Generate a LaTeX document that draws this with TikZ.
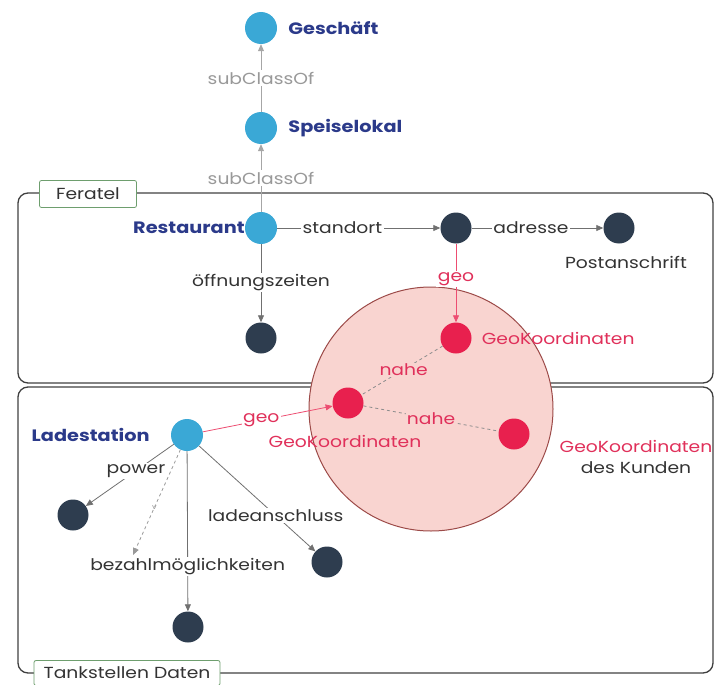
\documentclass[tikz,border=0pt]{standalone}
\usepackage{fontspec}
\setmainfont{Poppins}[FakeStretch=1.17]
\usetikzlibrary{positioning, arrows.meta, calc}

\definecolor{classblue}{HTML}{3AA8D6}
\definecolor{instdark}{HTML}{2E3D4F}
\definecolor{geored}{HTML}{E8204E}
\definecolor{zonefill}{HTML}{F9D4D0}
\definecolor{zonedraw}{HTML}{9C4A48}
\definecolor{labelblue}{HTML}{2B3A8A}
\definecolor{edgegray}{HTML}{707070}
\definecolor{taggreen}{HTML}{6E9E6E}
\definecolor{textred}{HTML}{E0305A}

\tikzset{
  clsnode/.style={circle, fill=classblue, minimum size=32pt, inner sep=0pt},
  instnode/.style={circle, fill=instdark, minimum size=31pt, inner sep=0pt},
  geonode/.style={circle, fill=geored, minimum size=31pt, inner sep=0pt},
  rel/.style={draw=edgegray, line width=0.8pt, -{Triangle[length=7pt,width=6pt]}},
  georel/.style={draw=geored!80, line width=0.8pt, -{Triangle[length=7pt,width=6pt]}},
  nearrel/.style={draw=edgegray!80, line width=0.8pt, dashed},
  rellabel/.style={fill=white, inner sep=1.5pt, text=black!80, font=\fontsize{16}{18}\selectfont},
  subclabel/.style={rellabel, text=black!40},
  geolabel/.style={rellabel, text=textred},
  nearlabel/.style={text=textred, fill=zonefill, inner sep=1pt, font=\fontsize{16}{18}\selectfont},
  clslabel/.style={text=labelblue, font=\bfseries\fontsize{16.5}{18}\selectfont, inner sep=0pt},
  geotext/.style={text=textred, font=\fontsize{16}{18}\selectfont, inner sep=0pt},
  plaintext/.style={text=black!80, font=\fontsize{16}{18}\selectfont, inner sep=0pt},
  container/.style={draw=black!75, line width=1.3pt, rounded corners=10pt},
  tagbox/.style={draw=taggreen, fill=white, line width=0.8pt, rounded corners=2pt,
    inner xsep=4pt, inner ysep=3pt, text=black!80, font=\fontsize{16}{18}\selectfont}
}

\begin{document}
\begin{tikzpicture}[x=1pt, y=-1pt]
    \useasboundingbox (0,0) rectangle (715,685);

    % Containers
    \draw[container] (18,193) rectangle (713,383);
    \draw[container] (18,387) rectangle (713,673);
    \node[tagbox, minimum width=97pt, minimum height=27pt] (feratel) at (88,194) {Feratel};
    \node[tagbox, minimum width=186pt, minimum height=25pt] (tankstellen) at (127,673) {Tankstellen Daten};

    % Zone of proximity
    \draw[draw=zonedraw, fill=zonefill, line width=1pt] (431,409) circle (122);

    % Classes
    \node[clsnode] (geschaeft) at (261,28) {};
    \node[clsnode] (speiselokal) at (261,128) {};
    \node[clsnode] (restaurant) at (261,228) {};
    \node[clsnode] (ladestation) at (187,435) {};

    \node[clslabel, right=11pt of geschaeft] {Geschäft};
    \node[clslabel, right=11pt of speiselokal] {Speiselokal};
    \node[clslabel, left=0pt of restaurant] {Restaurant};
    \node[clslabel, left=21pt of ladestation] {Ladestation};

    % Instances
    \node[instnode] (standort) at (456,228) {};
    \node[instnode] (postanschrift) at (619,228) {};
    \node[instnode] (oeffnung) at (261,338) {};
    \node[instnode] (power) at (73,515) {};
    \node[instnode] (anschluss) at (327,562) {};
    \node[instnode] (bezahl) at (188,627) {};
    \node[plaintext] at (626,262) {Postanschrift};

    % GeoKoordinaten
    \node[geonode] (geoA) at (456,338) {};
    \node[geonode] (geoB) at (348,403) {};
    \node[geonode] (geoC) at (514,434) {};
    \node[geotext, right=10pt of geoA] {GeoKoordinaten};
    \node[geotext] at (345,441) {GeoKoordinaten};
    \node[geotext] at (636,446) {GeoKoordinaten};
    \node[plaintext] at (636,468) {des Kunden};

    % subClassOf
    \draw[rel, draw=black!35] (speiselokal) -- node [midway, subclabel] {subClassOf} (geschaeft);
    \draw[rel, draw=black!35] (restaurant) -- node [midway, subclabel] {subClassOf} (speiselokal);

    % Feratel relations
    \draw[rel] (restaurant) -- node [pos=0.4, rellabel] {standort} (standort);
    \draw[rel] (standort) -- node [pos=0.45, rellabel] {adresse} (postanschrift);
    \draw[rel] (restaurant) -- node [pos=0.49, rellabel] {öffnungszeiten} (oeffnung);
    \draw[georel] (standort) -- node [pos=0.45, geolabel] {geo} (geoA);

    % Tankstellen relations
    \draw[georel] (ladestation) -- node [pos=0.45, geolabel] {geo} (geoB);
    \draw[rel] (ladestation) -- node [pos=0.43, rellabel] {power} (power);
    \draw[rel] (ladestation) -- node [pos=0.66, rellabel] {ladeanschluss} (anschluss);
    \draw[rel] (ladestation) -- node [pos=0.72, rellabel] {bezahlmöglichkeiten} (bezahl);
    \coordinate (bezahlend) at (133,555);
    \draw[rel, draw=black!40, dashed] (ladestation) -- node [pos=0.55, text=black!40, font=\scriptsize, inner sep=0pt] {v} (bezahlend);

    % nahe
    \draw[nearrel] (geoA) -- node [pos=0.48, nearlabel] {nahe} (geoB);
    \draw[nearrel] (geoB) -- node [midway, nearlabel] {nahe} (geoC);
\end{tikzpicture}
\end{document}
